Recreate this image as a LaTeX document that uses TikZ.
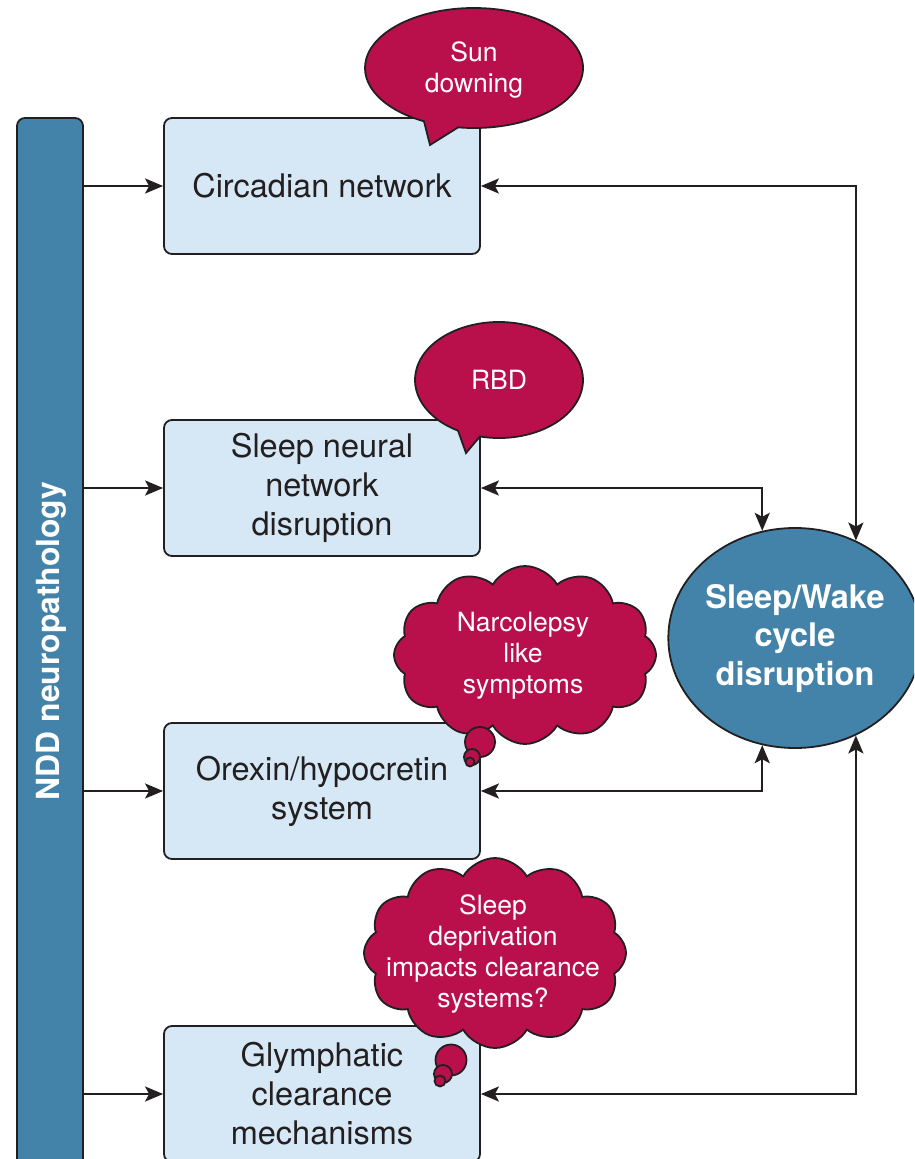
\documentclass[tikz,border=0pt]{standalone}
\usepackage{fontspec}
\setmainfont{TeX Gyre Heros}
\usetikzlibrary{arrows.meta,shapes.geometric,shapes.symbols,calc}
\definecolor{wine}{RGB}{185,16,75}
\definecolor{lightbox}{RGB}{214,232,245}
\definecolor{steel}{RGB}{67,131,169}
\definecolor{ink}{RGB}{35,31,32}
\begin{document}
\begin{tikzpicture}[x=1pt,y=-1pt,
 stepbox/.style={draw=ink, line width=1.8pt, fill=lightbox, rounded corners=8pt, minimum width=316pt, minimum height=136pt, align=center, font=\fontsize{32.5}{39}\selectfont, text=ink, inner sep=0pt},
 bigtip/.tip={Stealth[length=18pt,width=15pt,inset=4pt]},
 arr/.style={draw=ink, line width=2.3pt, -bigtip},
 darr/.style={draw=ink, line width=2.3pt, bigtip-bigtip},
 bubtext/.style={text=white, align=center, font=\fontsize{26.5}{31}\selectfont, inner sep=0pt},
 bubble/.style={fill=wine, draw=ink, line width=1.8pt},
]
\useasboundingbox (0,0) rectangle (914,1159);
\clip (0,0) rectangle (914,1159);

% left bar
\node[draw=ink, line width=1.8pt, fill=steel, rounded corners=8pt, minimum width=66pt, minimum height=1050pt, inner sep=0pt] (bar) at (50,643) {};
\node[rotate=90, text=white, font=\bfseries\fontsize{31.8}{38}\selectfont, inner sep=0pt] (ndd) at (51,641) {NDD neuropathology};

% boxes
\node[stepbox] (b1) at (322,186) {Circadian network};
\node[stepbox] (b2) at (322,488) {Sleep neural\\network\\disruption};
\node[stepbox] (b3) at (322,791) {Orexin/hypocretin\\system};
\node[stepbox] (b4) at (322,1094) {Glymphatic\\clearance\\mechanisms};

% central ellipse
\node[ellipse, draw=ink, line width=1.8pt, fill=steel, minimum width=242pt, minimum height=220pt, inner sep=0pt, text=white, font=\bfseries\fontsize{32.5}{38.5}\selectfont, align=center] (ell) at (795,638) {Sleep/Wake\\cycle\\disruption};

% arrows from bar
\draw[arr] (bar.east |- b1.west) -- (b1.west);
\draw[arr] (bar.east |- b2.west) -- (b2.west);
\draw[arr] (bar.east |- b3.west) -- (b3.west);
\draw[arr] (bar.east |- b4.west) -- (b4.west);

% two-way arrows to ellipse
\draw[darr] (b1.east) -| (ell.58);
\draw[darr] (b2.east) -| (ell.107);
\draw[darr] (b3.east) -| (ell.-107);
\draw[darr] (b4.east) -| (ell.-58);

% speech bubble: Sun downing
\path[bubble] ($(474,68)+(98.4:109 and 60)$) arc[start angle=98.4, end angle=-242.7, x radius=109, y radius=60] -- (430,145) -- cycle;
\node[bubtext] (sun) at (474,70) {Sun\\downing};

% speech bubble: RBD
\path[bubble] ($(499,380)+(103.1:84 and 58)$) arc[start angle=103.1, end angle=-240.8, x radius=84, y radius=58] -- (466,453) -- cycle;
\node[bubtext] (rbd) at (499,380) {RBD};

% thought cloud: Narcolepsy
\node[cloud, cloud puffs=12, cloud puff arc=120, cloud ignores aspect, bubble, minimum width=262pt, minimum height=178pt, inner sep=0pt] (cl1) at (525,655) {};
\path[bubble] (480,742) circle[radius=15];
\path[bubble] (472,757) circle[radius=8];
\path[bubble] (470,762) circle[radius=4.5];
\node[bubtext] (narco) at (523,656) {Narcolepsy\\like\\symptoms};

% thought cloud: Sleep deprivation
\node[cloud, cloud puffs=12, cloud puff arc=120, cloud ignores aspect, bubble, minimum width=262pt, minimum height=190pt, inner sep=0pt] (cl2) at (495,953) {};
\path[bubble] (451,1060) circle[radius=15.5];
\path[bubble] (443,1074) circle[radius=9];
\path[bubble] (440,1081) circle[radius=5.5];
\node[bubtext] (depr) at (493,954) {Sleep\\deprivation\\impacts clearance\\systems?};
\end{tikzpicture}
\end{document}
